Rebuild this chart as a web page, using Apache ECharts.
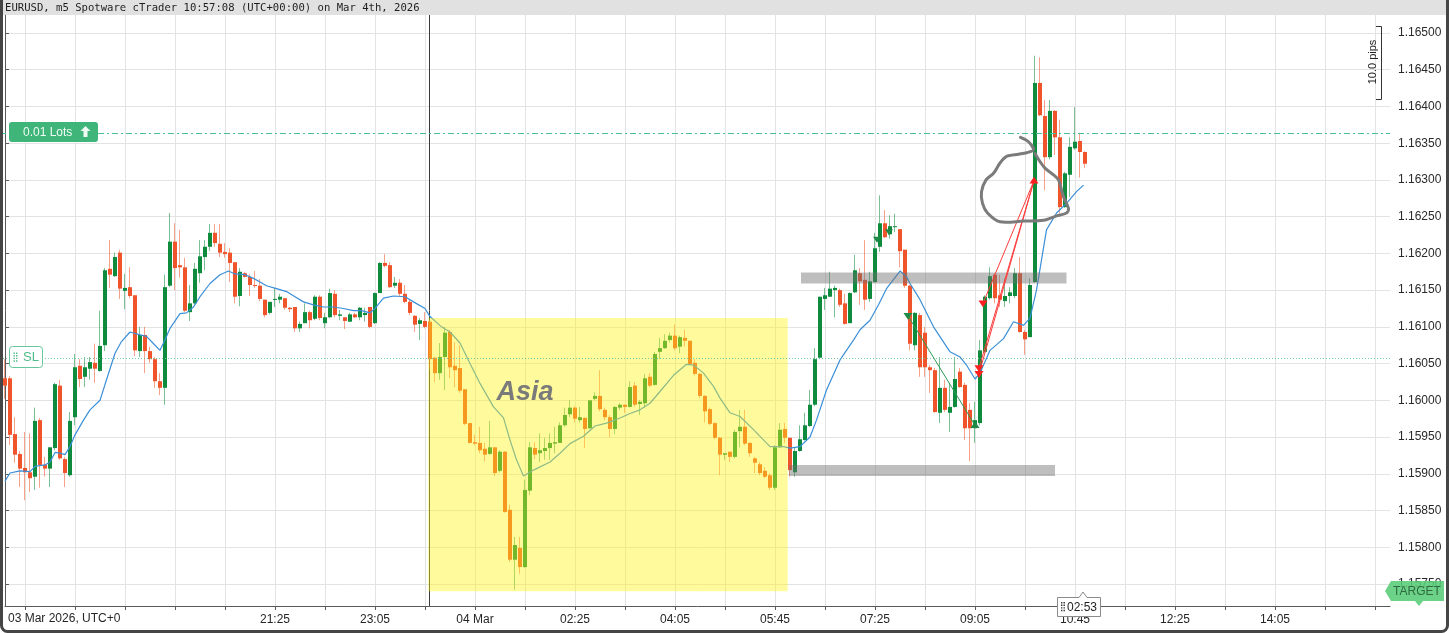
<!DOCTYPE html>
<html><head><meta charset="utf-8">
<script src="https://cdn.jsdelivr.net/npm/echarts@6/dist/echarts.min.js"></script>
<style>html,body{margin:0;padding:0;background:#fff;overflow:hidden}#c{width:1449px;height:633px}</style>
</head><body><div id="c"></div>
<script>
// ---------- axis / category setup ----------
const FIRST_BAR = '16:55';          // time of bar index 0 (03 Mar)
const BAR_MINUTES = 5;
const N_SLOTS = 278;                // bars that fit the time axis
const X_TICK_LABELS = ['21:25','23:05','04 Mar','02:25','04:05','05:45','07:25','09:05','10:45','12:25','14:05'];
const Y_TICKS = [1.1575,1.158,1.1585,1.159,1.1595,1.16,1.1605,1.161,1.1615,1.162,1.1625,1.163,1.1635,1.164,1.1645,1.165];
const Y_MIN = 1.15720, Y_MAX = 1.165245;

// ---------- OHLC (EURUSD m5) ----------
const OPEN = [1.16030,1.16030,1.15954,1.15927,1.15908,1.15902,1.15896,1.15973,1.15912,1.15907,
1.15935,1.16020,1.15920,1.15898,1.15977,1.16047,1.16032,1.16043,1.16051,1.16040,
1.16075,1.16179,1.16169,1.16201,1.16149,1.16154,1.16143,1.16067,1.16089,1.16067,
1.16056,1.16026,1.16017,1.16156,1.16216,1.16184,1.16181,1.16120,1.16132,1.16173,
1.16195,1.16209,1.16228,1.16213,1.16202,1.16201,1.16188,1.16142,1.16173,1.16168,
1.16157,1.16156,1.16137,1.16119,1.16137,1.16137,1.16139,1.16126,1.16127,1.16098,
1.16105,1.16120,1.16111,1.16141,1.16105,1.16113,1.16145,1.16115,1.16113,1.16107,
1.16117,1.16113,1.16116,1.16127,1.16105,1.16146,1.16187,1.16184,1.16156,1.16160,
1.16145,1.16134,1.16115,1.16104,1.16108,1.16107,1.16058,1.16037,1.16059,1.16093,
1.16047,1.16044,1.16015,1.15969,1.15943,1.15942,1.15934,1.15927,1.15936,1.15904,
1.15930,1.15851,1.15783,1.15799,1.15773,1.15877,1.15935,1.15928,1.15931,1.15935,
1.15941,1.15942,1.15966,1.15981,1.15990,1.15973,1.15976,1.15962,1.16002,1.16006,
1.15987,1.15977,1.15961,1.15990,1.15994,1.15991,1.16020,1.15995,1.15996,1.16032,
1.16021,1.16066,1.16071,1.16082,1.16088,1.16073,1.16085,1.16081,1.16051,1.16036,
1.16006,1.15988,1.15969,1.15949,1.15926,1.15930,1.15923,1.15958,1.15964,1.15942,
1.15921,1.15913,1.15904,1.15898,1.15881,1.15936,1.15961,1.15949,1.15902,1.15931,
1.15946,1.15965,1.15994,1.16058,1.16138,1.16141,1.16150,1.16150,1.16132,1.16105,
1.16147,1.16173,1.16164,1.16138,1.16161,1.16209,1.16241,1.16226,1.16236,1.16233,
1.16205,1.16156,1.16075,1.16116,1.16092,1.16045,1.16041,1.15983,1.16017,1.15983,
1.15991,1.16039,1.16021,1.15987,1.15962,1.15969,1.16066,1.16139,1.16171,1.16143,
1.16135,1.16142,1.16142,1.16173,1.16093,1.16086,1.16161,1.16432,1.16387,1.16331,
1.16394,1.16358,1.16263,1.16307,1.16343,1.16353,1.16338];
const HIGH = [1.16056,1.16033,1.15977,1.15931,1.15957,1.15955,1.15990,1.15976,1.15923,1.15936,
1.16024,1.16028,1.15923,1.15984,1.16063,1.16056,1.16059,1.16059,1.16077,1.16122,
1.16180,1.16218,1.16201,1.16205,1.16172,1.16181,1.16143,1.16100,1.16100,1.16073,
1.16059,1.16037,1.16171,1.16255,1.16241,1.16232,1.16194,1.16157,1.16187,1.16218,
1.16218,1.16240,1.16240,1.16240,1.16214,1.16207,1.16188,1.16180,1.16175,1.16172,
1.16176,1.16165,1.16137,1.16134,1.16153,1.16145,1.16139,1.16127,1.16127,1.16107,
1.16132,1.16122,1.16143,1.16143,1.16119,1.16152,1.16150,1.16123,1.16113,1.16119,
1.16119,1.16127,1.16126,1.16127,1.16147,1.16188,1.16199,1.16188,1.16168,1.16165,
1.16157,1.16138,1.16116,1.16112,1.16120,1.16109,1.16059,1.16078,1.16100,1.16096,
1.16079,1.16075,1.16015,1.15969,1.15953,1.15964,1.15942,1.15972,1.15936,1.15932,
1.15931,1.15858,1.15814,1.15814,1.15892,1.15943,1.15943,1.15955,1.15949,1.15955,
1.15964,1.15970,1.15990,1.16000,1.15992,1.15991,1.15977,1.16000,1.16011,1.16041,
1.15990,1.15980,1.15992,1.15996,1.15994,1.16026,1.16025,1.16000,1.16036,1.16037,
1.16066,1.16085,1.16090,1.16092,1.16103,1.16088,1.16096,1.16081,1.16056,1.16037,
1.16007,1.15990,1.15970,1.15950,1.15928,1.15930,1.15960,1.15987,1.15987,1.15943,
1.15923,1.15916,1.15909,1.15901,1.15939,1.15969,1.15969,1.15949,1.15935,1.15966,
1.15983,1.16014,1.16071,1.16141,1.16153,1.16175,1.16156,1.16152,1.16145,1.16147,
1.16198,1.16180,1.16218,1.16175,1.16228,1.16279,1.16259,1.16252,1.16254,1.16233,
1.16205,1.16157,1.16120,1.16119,1.16100,1.16048,1.16044,1.16059,1.16028,1.16024,
1.16059,1.16044,1.16024,1.15996,1.15998,1.16082,1.16143,1.16181,1.16173,1.16171,
1.16166,1.16154,1.16180,1.16195,1.16096,1.16166,1.16469,1.16467,1.16409,1.16409,
1.16395,1.16382,1.16311,1.16358,1.16399,1.16364,1.16339];
const LOW = [1.16002,1.15939,1.15915,1.15882,1.15864,1.15875,1.15878,1.15881,1.15896,1.15882,
1.15932,1.15919,1.15882,1.15896,1.15966,1.16018,1.16018,1.16028,1.16024,1.16039,
1.16067,1.16153,1.16168,1.16138,1.16124,1.16139,1.16060,1.16059,1.16037,1.16051,
1.16017,1.16007,1.15994,1.16154,1.16150,1.16167,1.16120,1.16108,1.16130,1.16160,
1.16177,1.16203,1.16209,1.16195,1.16194,1.16161,1.16132,1.16128,1.16167,1.16142,
1.16153,1.16135,1.16113,1.16117,1.16127,1.16132,1.16123,1.16120,1.16093,1.16093,
1.16105,1.16098,1.16109,1.16109,1.16098,1.16112,1.16113,1.16109,1.16097,1.16107,
1.16112,1.16109,1.16107,1.16098,1.16104,1.16146,1.16181,1.16153,1.16153,1.16142,
1.16132,1.16116,1.16093,1.16082,1.16098,1.16041,1.16025,1.16028,1.16014,1.16030,
1.16018,1.16010,1.15966,1.15941,1.15939,1.15928,1.15917,1.15926,1.15897,1.15902,
1.15847,1.15780,1.15742,1.15764,1.15772,1.15871,1.15920,1.15916,1.15919,1.15919,
1.15928,1.15942,1.15964,1.15977,1.15970,1.15970,1.15935,1.15961,1.16000,1.15985,
1.15973,1.15950,1.15954,1.15987,1.15983,1.15990,1.15991,1.15980,1.15990,1.16018,
1.16020,1.16056,1.16070,1.16079,1.16068,1.16064,1.16073,1.16048,1.16034,1.16003,
1.15970,1.15966,1.15947,1.15898,1.15919,1.15916,1.15921,1.15936,1.15939,1.15923,
1.15901,1.15898,1.15894,1.15878,1.15878,1.15935,1.15942,1.15896,1.15896,1.15930,
1.15945,1.15964,1.15992,1.16056,1.16123,1.16141,1.16113,1.16127,1.16103,1.16105,
1.16146,1.16130,1.16123,1.16134,1.16160,1.16202,1.16221,1.16220,1.16229,1.16181,
1.16153,1.16068,1.16068,1.16032,1.16032,1.16010,1.15983,1.15969,1.15984,1.15957,
1.15990,1.16017,1.15946,1.15917,1.15942,1.15966,1.16064,1.16137,1.16132,1.16127,
1.16127,1.16132,1.16139,1.16092,1.16062,1.16086,1.16160,1.16387,1.16286,1.16328,
1.16334,1.16255,1.16262,1.16277,1.16341,1.16303,1.16316];
const CLOSE = [1.16020,1.15953,1.15926,1.15907,1.15902,1.15894,1.15972,1.15912,1.15907,1.15936,
1.16022,1.15921,1.15901,1.15972,1.16045,1.16029,1.16045,1.16052,1.16043,1.16074,
1.16177,1.16171,1.16195,1.16152,1.16153,1.16142,1.16068,1.16089,1.16067,1.16056,
1.16026,1.16017,1.16154,1.16216,1.16180,1.16181,1.16122,1.16132,1.16179,1.16196,
1.16209,1.16228,1.16214,1.16201,1.16199,1.16187,1.16141,1.16175,1.16168,1.16157,
1.16156,1.16138,1.16116,1.16134,1.16138,1.16141,1.16126,1.16124,1.16098,1.16104,
1.16120,1.16109,1.16141,1.16112,1.16113,1.16146,1.16116,1.16117,1.16108,1.16117,
1.16113,1.16126,1.16119,1.16100,1.16146,1.16187,1.16183,1.16154,1.16160,1.16145,
1.16134,1.16119,1.16103,1.16109,1.16100,1.16056,1.16037,1.16059,1.16092,1.16045,
1.16041,1.16013,1.15968,1.15942,1.15941,1.15932,1.15926,1.15936,1.15901,1.15930,
1.15848,1.15783,1.15803,1.15773,1.15878,1.15936,1.15926,1.15932,1.15935,1.15942,
1.15943,1.15966,1.15980,1.15990,1.15975,1.15977,1.15961,1.16000,1.16006,1.15988,
1.15977,1.15961,1.15991,1.15994,1.15991,1.16018,1.15994,1.15998,1.16030,1.16020,
1.16063,1.16071,1.16081,1.16088,1.16071,1.16086,1.16081,1.16049,1.16036,1.16006,
1.15985,1.15968,1.15949,1.15926,1.15928,1.15923,1.15957,1.15964,1.15941,1.15928,
1.15915,1.15901,1.15896,1.15881,1.15936,1.15960,1.15949,1.15905,1.15931,1.15947,
1.15966,1.15994,1.16056,1.16141,1.16143,1.16152,1.16153,1.16130,1.16104,1.16146,
1.16177,1.16162,1.16137,1.16162,1.16207,1.16241,1.16222,1.16237,1.16237,1.16203,
1.16156,1.16077,1.16119,1.16045,1.16045,1.16041,1.15984,1.16017,1.15987,1.15991,
1.16029,1.16018,1.15962,1.15962,1.15973,1.16068,1.16141,1.16169,1.16139,1.16137,
1.16142,1.16147,1.16173,1.16093,1.16083,1.16157,1.16432,1.16388,1.16331,1.16394,
1.16358,1.16263,1.16309,1.16345,1.16352,1.16338,1.16322];

// ---------- moving average (bar position, price) ----------
const MA_POS = [0,1,3,5,6,8,9,10,11,12,13,14,15.7,17,19,20.3,22,23.3,25,27,28.3,30,31,32,33,35,36.3,37.7,39,41,43,44.7,46,48,49.7,51,52.3,54.3,56.3,58,59.7,61.7,63.7,65.7,67.7,69.7,71.3,73,74,75.7,77.7,80,81.7,84,85,87.3,89,91,93,95,97.7,99.7,101,102.3,103.7,105.7,109,111,113,115.7,118,120.3,123,125,127,129,131,133.7,136.3,137.7,139.7,141.7,143,145,147,149.7,153,155.7,157,159,161,162.3,164.3,167,169.7,171,173,174.7,176.3,179,180.3,181,183,185.7,189,191,192.3,194,195,197,199.7,201.7,203.7,205,206.3,208.3,210.3,212.3,214.3,215.7];
const MA_VAL = [1.15890,1.15901,1.15904,1.15903,1.15910,1.15912,1.15916,1.15929,1.15928,1.15926,1.15937,1.15953,1.15973,1.15987,1.16000,1.16028,1.16064,1.16080,1.16093,1.16089,1.16087,1.16075,1.16068,1.16082,1.16098,1.16118,1.16119,1.16127,1.16141,1.16159,1.16171,1.16176,1.16172,1.16171,1.16166,1.16161,1.16156,1.16152,1.16148,1.16141,1.16134,1.16130,1.16127,1.16127,1.16125,1.16122,1.16122,1.16119,1.16125,1.16139,1.16142,1.16141,1.16134,1.16125,1.16114,1.16100,1.16093,1.16078,1.16050,1.16023,1.15991,1.15976,1.15946,1.15919,1.15897,1.15905,1.15916,1.15928,1.15941,1.15951,1.15965,1.15969,1.15976,1.15982,1.15987,1.15996,1.16012,1.16034,1.16049,1.16048,1.16037,1.16019,1.16003,1.15983,1.15978,1.15960,1.15937,1.15937,1.15935,1.15937,1.15950,1.15973,1.16014,1.16055,1.16082,1.16096,1.16109,1.16130,1.16152,1.16176,1.16168,1.16159,1.16137,1.16100,1.16066,1.16059,1.16048,1.16029,1.16037,1.16068,1.16084,1.16107,1.16102,1.16112,1.16150,1.16232,1.16255,1.16268,1.16284,1.16293];

// ---------- drawn objects (bar position, price) ----------
const DAY_SEPARATOR = 84.9;
const ASIA_BOX = [84.67, 1.16112, 156.53, 1.15740];
const ASIA_TEXT = [104, 1.16011];
const ZONES = [[159.2, 1.16174, 212.3, 1.16159], [156.8, 1.15912, 210.0, 1.15897]];
const LOTS_PRICE = 1.16364;
const SL_PRICE = 1.16058;
const RED_ENTRIES = [[195.6, 1.16132], [194.8, 1.16044], [194.8, 1.16036]];
const RED_EXIT = [205.8, 1.16299];
const GREEN_ENTRY = [180.6, 1.16115];
const GREEN_EXIT = [194.0, 1.15966];
const GREEN_MARKS = [[174.4, 1.16220], [176.8, 1.16230]];
const FREEHAND = [[203.1,1.16358],[204.7,1.16352],[205.7,1.16341],[204.3,1.16337],[202.7,1.16335],[200.3,1.16332],[199.0,1.16323],[197.7,1.16309],[196.2,1.16300],[195.3,1.16284],[195.5,1.16268],[196.5,1.16255],[199.0,1.16243],[203.7,1.16244],[207.7,1.16245],[210.3,1.16251],[212.3,1.16255],[212.7,1.16261],[211.7,1.16277],[210.7,1.16300],[209.7,1.16307],[208.0,1.16316],[207.0,1.16325],[206.0,1.16336]];

// ---------- styles ----------
const UP = '#0e8b3d', DN = '#f0542a';
const UP_WICK = 'rgba(14,139,61,0.55)', DN_WICK = 'rgba(240,84,42,0.55)';
const AXIS_FONT = '"Liberation Sans", Arial, sans-serif';

const categories = [];
(function(){
  const [h0, m0] = FIRST_BAR.split(':').map(Number);
  for (let i = 0; i < N_SLOTS; i++) {
    const m = (h0 * 60 + m0 + BAR_MINUTES * i) % 1440;
    categories.push(String(Math.floor(m / 60)).padStart(2, '0') + ':' + String(m % 60).padStart(2, '0'));
  }
})();
const disp = v => (v === '00:45' ? '04 Mar' : v);

const candleData = OPEN.map((o, i) => [i, o, CLOSE[i], LOW[i], HIGH[i]]);

const chart = echarts.init(document.getElementById('c'), null, {renderer: 'canvas'});

function candleRender(params, api) {
  const i = api.value(0), o = api.value(1), c = api.value(2), l = api.value(3), h = api.value(4);
  const pO = api.coord([i, o]), pC = api.coord([i, c]), pL = api.coord([i, l]), pH = api.coord([i, h]);
  const x = Math.round(pO[0]);
  const up = c >= o;
  const top = Math.min(pO[1], pC[1]), bot = Math.max(pO[1], pC[1]);
  return {type: 'group', children: [
    {type: 'line', shape: {x1: x - 0.5, y1: pH[1], x2: x - 0.5, y2: pL[1]}, style: {stroke: up ? UP_WICK : DN_WICK, lineWidth: 1}},
    {type: 'rect', shape: {x: x - 2, y: top, width: 4, height: Math.max(1, bot - top)}, style: {fill: up ? UP : DN}}
  ]};
}

function rectEl(api, x0, y0, x1, y1, style) {
  const a = api.coord([x0, y0]), b = api.coord([x1, y1]);
  return {type: 'rect', shape: {x: Math.min(a[0], b[0]), y: Math.min(a[1], b[1]), width: Math.abs(b[0] - a[0]), height: Math.abs(b[1] - a[1])}, style};
}

function overlayRender(params, api) {
  const ch = [];
  ch.push(rectEl(api, ASIA_BOX[0], ASIA_BOX[1], ASIA_BOX[2], ASIA_BOX[3], {fill: 'rgba(255,245,20,0.42)'}));
  ZONES.forEach(z => ch.push(rectEl(api, z[0], z[1], z[2], z[3], {fill: 'rgba(110,110,110,0.45)'})));
  const t = api.coord(ASIA_TEXT);
  ch.push({type: 'text', x: t[0], y: t[1], style: {text: 'Asia', fill: '#7a7a7a', font: 'italic bold 27px "Liberation Sans"', textAlign: 'center', textVerticalAlign: 'middle', verticalAlign: 'middle'}});
  return {type: 'group', children: ch};
}

function underRender(params, api) {
  const a = api.coord([DAY_SEPARATOR, Y_MAX]), b = api.coord([DAY_SEPARATOR, Y_MIN]);
  return {type: 'line', shape: {x1: Math.round(a[0]) - 0.5, y1: a[1], x2: Math.round(a[0]) - 0.5, y2: b[1]}, style: {stroke: '#3c3c3c', lineWidth: 1}};
}

function tri(p, down, color, s) {
  const x = p[0], y = p[1];
  return {type: 'polygon', shape: {points: down ? [[x - s, y - s * 1.5], [x + s, y - s * 1.5], [x, y]] : [[x - s, y + s * 1.5], [x + s, y + s * 1.5], [x, y]]}, style: {fill: color}};
}

function annoRender(params, api) {
  const ch = [];
  const l0 = api.coord([0, LOTS_PRICE]), l1 = api.coord([N_SLOTS - 1, LOTS_PRICE]);
  ch.push({type: 'line', shape: {x1: 0, y1: Math.round(l0[1]) + 0.5, x2: l1[0], y2: Math.round(l0[1]) + 0.5}, style: {stroke: '#45bf94', lineWidth: 1, lineDash: [6, 3, 2, 3]}});
  const s0 = api.coord([0, SL_PRICE]), s1 = api.coord([N_SLOTS - 1, SL_PRICE]);
  ch.push({type: 'line', shape: {x1: 0, y1: Math.round(s0[1]) + 0.5, x2: s1[0], y2: Math.round(s0[1]) + 0.5}, style: {stroke: '#6fcaa5', lineWidth: 1, lineDash: [1, 2]}});
  // green trade
  const ge = api.coord(GREEN_ENTRY), gx = api.coord(GREEN_EXIT);
  ch.push({type: 'line', shape: {x1: ge[0], y1: ge[1], x2: gx[0], y2: gx[1]}, style: {stroke: '#2e9a55', lineWidth: 1}});
  ch.push(tri([ge[0], ge[1] + 4], true, '#1f8a45', 4.5));
  ch.push(tri([gx[0], gx[1] - 4], false, '#1f8a45', 4.5));
  GREEN_MARKS.forEach(m => { const p = api.coord(m); ch.push(tri([p[0], p[1] + 4], true, '#1f8a45', 4)); });
  // red trades
  const rx = api.coord(RED_EXIT);
  RED_ENTRIES.forEach(e => { const p = api.coord(e); ch.push({type: 'line', shape: {x1: p[0], y1: p[1], x2: rx[0], y2: rx[1]}, style: {stroke: '#ff3b3b', lineWidth: 1}}); });
  RED_ENTRIES.forEach(e => { const p = api.coord(e); ch.push(tri([p[0], p[1] + 4], true, '#ff1f1f', 4.5)); });
  ch.push(tri([rx[0], rx[1] - 4], false, '#ff1f1f', 4.5));
  // freehand drawing
  ch.push({type: 'polyline', shape: {points: FREEHAND.map(p => api.coord(p)), smooth: 0.3}, style: {stroke: '#7b7b7b', lineWidth: 3, fill: null, lineJoin: 'round', lineCap: 'round'}});
  return {type: 'group', children: ch};
}

function grip(x, y, color) {
  const els = [];
  for (let c = 0; c < 2; c++) for (let r = 0; r < 4; r++)
    els.push({type: 'rect', shape: {x: x + c * 2.5, y: y + r * 2.6, width: 1.4, height: 1.4}, style: {fill: color}, z: 120});
  return els;
}

const option = {
  animation: false,
  backgroundColor: '#ffffff',
  grid: {left: 5, right: 59, top: 15, bottom: 27},
  xAxis: [{
    type: 'category', data: categories, boundaryGap: false,
    axisLine: {lineStyle: {color: '#5a5a5a', width: 1}},
    axisTick: {interval: i => i % 10 === 4, length: 4, lineStyle: {color: '#5a5a5a'}},
    axisLabel: {interval: (i, v) => X_TICK_LABELS.includes(disp(v)), formatter: v => disp(v), color: '#262626', fontSize: 12, fontFamily: AXIS_FONT, margin: 8},
    splitLine: {show: true, interval: i => i % 10 === 4, lineStyle: {color: '#e3e3e3', width: 1}}
  }, {type: 'value', min: 0, max: N_SLOTS - 1, show: false}],
  yAxis: {
    type: 'value', position: 'right', min: Y_MIN, max: Y_MAX, scale: true,
    axisLine: {show: true, lineStyle: {color: '#5a5a5a', width: 1}},
    axisTick: {show: true, length: 4, customValues: Y_TICKS, lineStyle: {color: '#5a5a5a'}},
    axisLabel: {customValues: Y_TICKS, formatter: v => v.toFixed(5), color: '#2a2a2a', fontSize: 12, fontFamily: AXIS_FONT, margin: 8},
    splitLine: {show: true, lineStyle: {color: '#e3e3e3', width: 1}}
  },
  series: [
    {type: 'custom', name: 'sep', xAxisIndex: 1, data: [0], renderItem: underRender, z: 1, silent: true},
    {type: 'custom', name: 'EURUSD', data: candleData, encode: {x: 0, y: [1, 2, 3, 4]}, renderItem: candleRender, z: 2, silent: true},
    {type: 'line', name: 'MA', xAxisIndex: 1, data: MA_POS.map((p, k) => [p, MA_VAL[k]]), symbol: 'none', lineStyle: {color: '#3b8fd8', width: 1.2}, z: 3, silent: true},
    {type: 'custom', name: 'overlay', xAxisIndex: 1, data: [0], renderItem: overlayRender, z: 4, silent: true},
    {type: 'custom', name: 'anno', xAxisIndex: 1, data: [0], renderItem: annoRender, z: 5, silent: true}
  ],
  graphic: [
    {type: 'rect', shape: {x: 0, y: 0, width: 1449, height: 15}, style: {fill: '#e1e1e1'}, z: 100},
    {type: 'text', x: 5, y: 8, style: {text: 'EURUSD, m5 Spotware cTrader 10:57:08 (UTC+00:00) on Mar 4th, 2026', fill: '#1e1e1e', font: '10.6px "DejaVu Sans Mono"', textVerticalAlign: 'middle', verticalAlign: 'middle'}, z: 101},
    {type: 'text', x: 8, y: 619, style: {text: '03 Mar 2026, UTC+0', fill: '#262626', font: '12px ' + AXIS_FONT, textVerticalAlign: 'middle', verticalAlign: 'middle'}, z: 101},
    // lots label
    {type: 'rect', shape: {x: 9, y: 122, width: 89, height: 20, r: 3}, style: {fill: '#3fb57a'}, z: 110},
    {type: 'text', x: 23, y: 132.5, style: {text: '0.01 Lots', fill: '#f0fbf4', font: '12px ' + AXIS_FONT, textVerticalAlign: 'middle', verticalAlign: 'middle'}, z: 111},
    {type: 'polygon', shape: {points: [[85.5, 126], [90.5, 131], [87.5, 131], [87.5, 137], [83.5, 137], [83.5, 131], [80.5, 131]]}, style: {fill: '#f0fbf4'}, z: 111},
    // SL label
    {type: 'rect', shape: {x: 9.5, y: 346.5, width: 33, height: 21, r: 3}, style: {fill: '#ffffff', stroke: '#66c69c', lineWidth: 1}, z: 110},
    ...grip(13.5, 352.5, '#4fbb88'),
    {type: 'text', x: 23, y: 357.5, style: {text: 'SL', fill: '#4fbb88', font: '13px ' + AXIS_FONT, textVerticalAlign: 'middle', verticalAlign: 'middle'}, z: 111},
    // pips ruler
    {type: 'polyline', shape: {points: [[1376, 26.5], [1381.5, 26.5], [1381.5, 99.5], [1376, 99.5]]}, style: {stroke: '#333', lineWidth: 1, fill: null}, z: 110},
    {type: 'text', x: 1373, y: 62, rotation: Math.PI / 2, style: {text: '10.0 pips', fill: '#222', font: '11px ' + AXIS_FONT, textAlign: 'center', textVerticalAlign: 'middle', verticalAlign: 'middle'}, z: 110},
    // TARGET tag
    {type: 'polygon', shape: {points: [[1385, 591], [1391, 581], [1444, 581], [1444, 601], [1423, 601], [1419, 606], [1415, 601], [1391, 601]]}, style: {fill: 'rgba(86,204,118,0.88)'}, z: 110},
    {type: 'text', x: 1417, y: 591.5, style: {text: 'TARGET', fill: '#2f6a40', font: '12px ' + AXIS_FONT, textAlign: 'center', textVerticalAlign: 'middle', verticalAlign: 'middle'}, z: 111},
    // countdown box
    {type: 'polygon', shape: {points: [[1057.5, 597.5], [1079, 597.5], [1083, 592], [1087, 597.5], [1100.5, 597.5], [1100.5, 616.5], [1057.5, 616.5]]}, style: {fill: '#ffffff', stroke: '#8a8a8a', lineWidth: 1}, z: 110},
    ...grip(1061, 602, '#333'),
    {type: 'text', x: 1067, y: 607.5, style: {text: '02:53', fill: '#1e1e1e', font: '12px ' + AXIS_FONT, textVerticalAlign: 'middle', verticalAlign: 'middle'}, z: 111},
    // window frame
    {type: 'rect', shape: {x: 1.5, y: -10, width: 1446, height: 641.5, r: 6}, style: {fill: null, stroke: '#454545', lineWidth: 3}, z: 130}
  ]
};
chart.setOption(option);
</script></body></html>
